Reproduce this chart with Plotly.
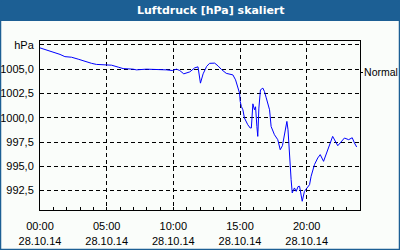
import plotly.graph_objects as go
from datetime import datetime, timedelta

DAY = "2014-10-28"
times = ["00:00","00:30","01:00","01:30","01:52","02:22","02:52","03:22","03:52","04:14",
         "04:44","05:22","05:52","06:14","06:59","07:14","07:59","08:44","09:29","09:56",
         "10:14","10:29","10:47","11:14","11:36","11:51","12:02","12:14","12:30","12:43",
         "13:06","13:21","13:36","13:58","14:28","14:40","14:50","14:58","15:01","15:06",
         "15:13","15:20","15:35","15:46","15:51","15:58","16:05","16:10","16:16","16:20",
         "16:25","16:32","16:43","16:50","16:58","17:13","17:20","17:35","17:50","18:01",
         "18:11","18:25","18:31","18:36","18:43","18:50","18:55","19:05","19:13","19:21",
         "19:28","19:40","19:50","20:01","20:13","20:20","20:35","20:50","21:01","21:16",
         "21:35","21:46","21:57","22:20","22:36","22:50","23:09","23:25","23:35","23:45"]
pressure = [1007.19,1006.98,1006.71,1006.52,1006.29,1006.23,1006.03,1005.80,1005.60,1005.49,
            1005.47,1005.41,1005.21,1005.06,1005.00,1004.93,1005.00,1005.00,1004.93,1004.86,
            1005.00,1004.86,1004.52,1004.72,1005.13,1005.24,1003.56,1004.52,1005.29,1005.60,
            1005.62,1005.34,1004.98,1004.57,1004.41,1003.90,1003.05,1002.53,1001.67,1001.16,
            1000.82,999.97,999.28,998.94,998.94,1001.43,1000.82,1001.13,999.10,998.08,
            1000.99,1002.87,1003.05,1002.70,1002.05,1000.82,999.10,998.25,997.74,996.71,
            997.12,998.94,999.62,998.76,995.68,993.63,992.26,992.77,992.42,992.91,
            992.94,991.40,992.42,992.77,993.11,993.97,995.17,995.86,996.20,995.51,
            996.71,997.56,998.08,997.12,997.53,997.91,997.74,997.94,997.40,996.99]

y_ticks = [992.5, 995.0, 997.5, 1000.0, 1002.5, 1005.0, 1007.5]
y_ticktext = ["992,5", "995,0", "997,5", "1000,0", "1002,5", "1005,0", "hPa"]
normal_value = 1004.65
normal_label = "Normal"
title_text = "Luftdruck [hPa] skaliert"

x = [datetime.strptime(DAY + " " + t, "%Y-%m-%d %H:%M") for t in times]
x0 = datetime.strptime(DAY, "%Y-%m-%d")
x1 = x0 + timedelta(days=1)

W, H = 400, 250
ML, MR, MT, MB = 40, 40, 41, 40
PW, PH = W - ML - MR, H - MT - MB

def px(xp):
    return (xp - ML) / PW
def py(yp):
    return (H - MB - yp) / PH

BLUE = "#1c5f94"
BG = "#fafdfa"
FONT = "Liberation Sans"

fig = go.Figure()
fig.add_trace(go.Scatter(x=x, y=pressure, mode="lines",
                         line=dict(color="#0000ff", width=1), showlegend=False,
                         hoverinfo="skip"))
fig.add_trace(go.Scatter(x=[x0], y=[normal_value], yaxis="y2", mode="markers",
                         marker=dict(opacity=0), showlegend=False, hoverinfo="skip"))

yr = [990.5, 1007.9]
fig.update_layout(
    width=W, height=H,
    margin=dict(l=ML, r=MR, t=MT, b=MB, pad=0, autoexpand=False),
    paper_bgcolor=BG, plot_bgcolor=BG,
    font=dict(family=FONT, size=11, color="black"),
    xaxis=dict(
        type="date", range=[x0, x1], automargin=False,
        tick0=x0, dtick=5 * 3600 * 1000,
        tickformat="%H:%M<br>%d.%m.%y",
        ticks="inside", ticklen=3, tickcolor="black",
        ticklabelstandoff=6,
        showgrid=True, gridcolor="black", griddash="4px,3px", gridwidth=1,
        showline=True, linecolor="black", linewidth=1, mirror=True,
        minor=dict(dtick=3600 * 1000, ticks="inside", ticklen=3, tickcolor="black", showgrid=False),
        zeroline=False,
        tickfont=dict(family=FONT, size=11, color="black"),
    ),
    yaxis=dict(
        range=yr, tickvals=y_ticks, ticktext=y_ticktext, automargin=False,
        ticklabelstandoff=3,
        showgrid=True, gridcolor="black", griddash="4px,3px", gridwidth=1,
        showline=True, linecolor="black", linewidth=1, mirror=True,
        ticks="", zeroline=False,
        tickfont=dict(family=FONT, size=11, color="black"),
    ),
    yaxis2=dict(
        range=yr, overlaying="y", side="right", automargin=False,
        tickvals=[normal_value], ticktext=[normal_label],
        ticks="outside", ticklen=2, tickcolor="black",
        ticklabelstandoff=-1,
        showgrid=False, zeroline=False, showline=False,
        tickfont=dict(family=FONT, size=10.5, color="black"),
    ),
    shapes=[
        dict(type="rect", xref="paper", yref="paper",
             x0=px(-2), x1=px(W + 2), y0=py(21), y1=py(-2),
             fillcolor=BLUE, line=dict(width=0), layer="above"),
        dict(type="rect", xref="paper", yref="paper",
             x0=px(0.5), x1=px(W - 0.5), y0=py(H - 0.5), y1=py(0.5),
             fillcolor="rgba(0,0,0,0)", line=dict(color=BLUE, width=1.5), layer="above"),
    ],
    annotations=[
        dict(text="<b>" + title_text + "</b>", xref="paper", yref="paper",
             x=px(211), y=py(10.5), xanchor="center", yanchor="middle",
             showarrow=False, font=dict(family="DejaVu Sans", size=11, color="white")),
    ],
)

fig.write_html("out.html")
